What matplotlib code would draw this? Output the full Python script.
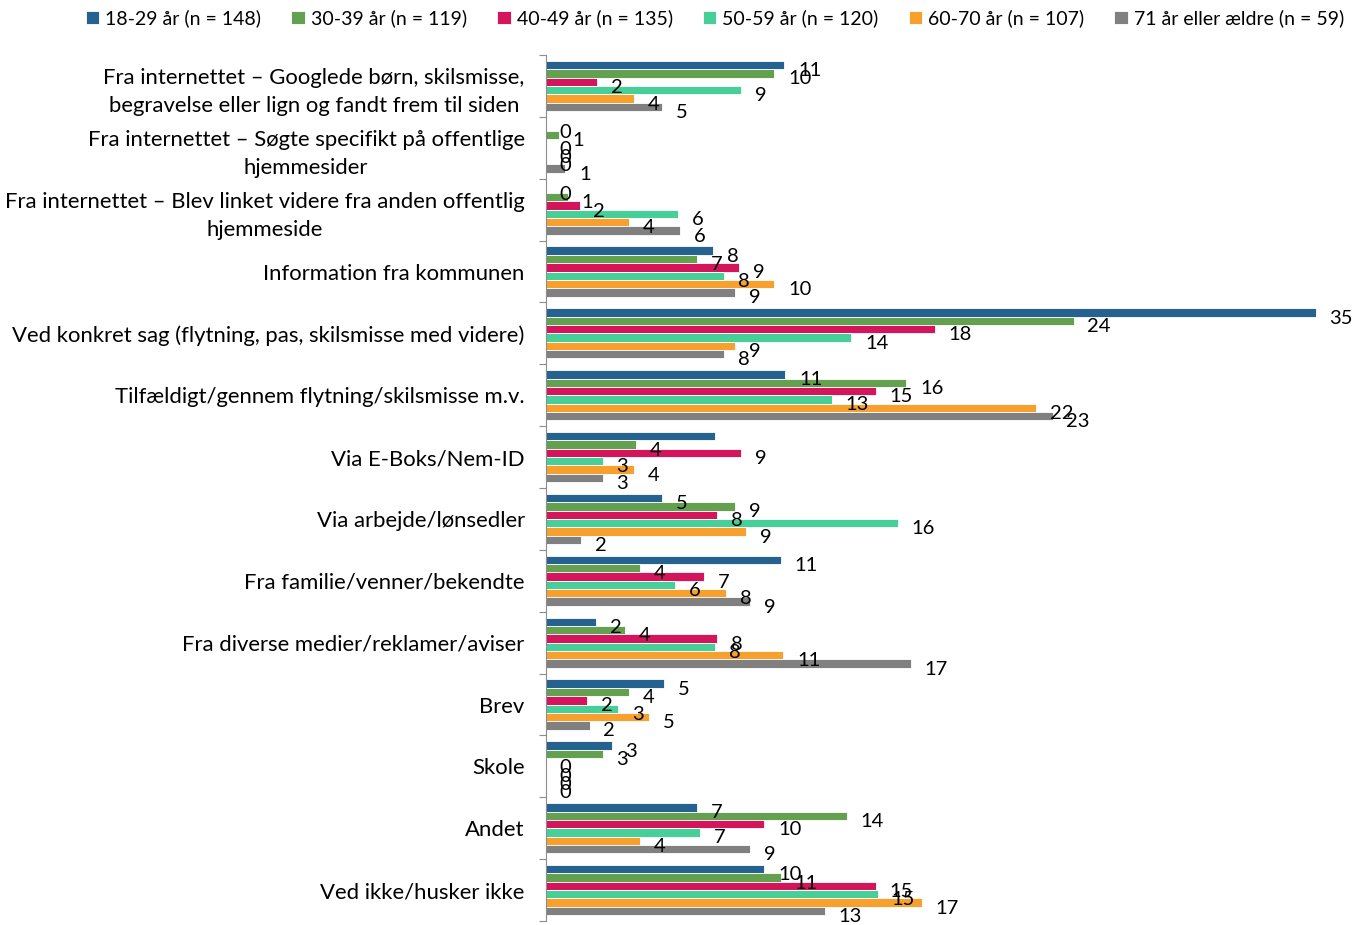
import matplotlib.pyplot as plt
import numpy as np

plt.rcParams['font.family'] = ['Lato', 'DejaVu Sans']

# Kategorier (oppefra og ned)
categories = [
    "Fra internettet – Googlede børn, skilsmisse,\nbegravelse eller lign og fandt frem til siden",
    "Fra internettet – Søgte specifikt på offentlige\nhjemmesider",
    "Fra internettet – Blev linket videre fra anden offentlig\nhjemmeside",
    "Information fra kommunen",
    "Ved konkret sag (flytning, pas, skilsmisse med videre)",
    "Tilfældigt/gennem flytning/skilsmisse m.v.",
    "Via E-Boks/Nem-ID",
    "Via arbejde/lønsedler",
    "Fra familie/venner/bekendte",
    "Fra diverse medier/reklamer/aviser",
    "Brev",
    "Skole",
    "Andet",
    "Ved ikke/husker ikke",
]

series_names = [
    "18-29 år (n = 148)",
    "30-39 år (n = 119)",
    "40-49 år (n = 135)",
    "50-59 år (n = 120)",
    "60-70 år (n = 107)",
    "71 år eller ældre (n = 59)",
]

# Procent
age_18_29 = [10.85, 0, 0, 7.6, 35, 10.9, 7.7, 5.3, 10.7, 2.3, 5.4, 3.0, 6.9, 9.95]
age_30_39 = [10.4, 0.6, 1.0, 6.9, 24.0, 16.4, 4.1, 8.6, 4.3, 3.6, 3.8, 2.6, 13.7, 10.7]
age_40_49 = [2.35, 0, 1.55, 8.8, 17.7, 15.0, 8.9, 7.8, 7.2, 7.8, 1.9, 0, 9.95, 15.0]
age_50_59 = [8.9, 0, 6.0, 8.1, 13.9, 13.0, 2.6, 16.0, 5.9, 7.7, 3.3, 0, 7.0, 15.1]
age_60_70 = [4.0, 0, 3.8, 10.4, 8.6, 22.3, 4.0, 9.1, 8.2, 10.8, 4.7, 0, 4.3, 17.1]
age_71 = [5.3, 0.9, 6.1, 8.6, 8.1, 23.05, 2.6, 1.6, 9.3, 16.6, 2.0, 0, 9.3, 12.7]

series = [age_18_29, age_30_39, age_40_49, age_50_59, age_60_70, age_71]
colors = ["#25628f", "#63a150", "#d5155b", "#46cf99", "#f7a02d", "#808080"]

# etiketter der ikke vises (serie, kategori)
hidden_labels = [(0, 6)]

fig = plt.figure(figsize=(13.54, 9.25), dpi=100)
ax = fig.add_axes([545.5 / 1354, 4 / 925, 792 / 1354, 866 / 925])

n = len(series)
h = 0.135
y = np.arange(len(categories))

for j, vals in enumerate(series):
    pos = y - h * (n - 1) / 2 + j * h
    ax.barh(pos, vals, height=h, color=colors[j], edgecolor="white",
            linewidth=0.6, label=series_names[j])
    for i, v in enumerate(vals):
        if (j, i) in hidden_labels:
            continue
        ax.annotate(f"{v:.0f}", (v, pos[i]), xytext=(10, -4),
                    textcoords="offset points", ha="left", va="center",
                    fontsize=14.5, color="black", annotation_clip=False)

ax.set_xlim(0, 36)
ax.set_ylim(len(categories) - 0.5, -0.5)

ax.set_yticks(np.arange(len(categories) + 1) - 0.5)
ax.set_yticklabels([])
ax.tick_params(axis="y", which="major", length=5, color="#8c8c8c", direction="out")
ax.set_yticks(y, minor=True)
ax.set_yticklabels(categories, minor=True, fontsize=15.9)
ax.tick_params(axis="y", which="minor", length=0, pad=15)
for lbl in ax.get_yticklabels(minor=True):
    lbl.set_multialignment("center")
    lbl.set_linespacing(1.5)

ax.xaxis.set_visible(False)
for s in ["top", "right", "bottom"]:
    ax.spines[s].set_visible(False)
ax.spines["left"].set_color("#8c8c8c")

fig.legend(loc="center", bbox_to_anchor=(0.528, 0.98), ncol=6, frameon=False,
           fontsize=14, handlelength=0.7, handleheight=0.7,
           handletextpad=0.3, columnspacing=1.55)

plt.savefig("out.png", dpi=100)
